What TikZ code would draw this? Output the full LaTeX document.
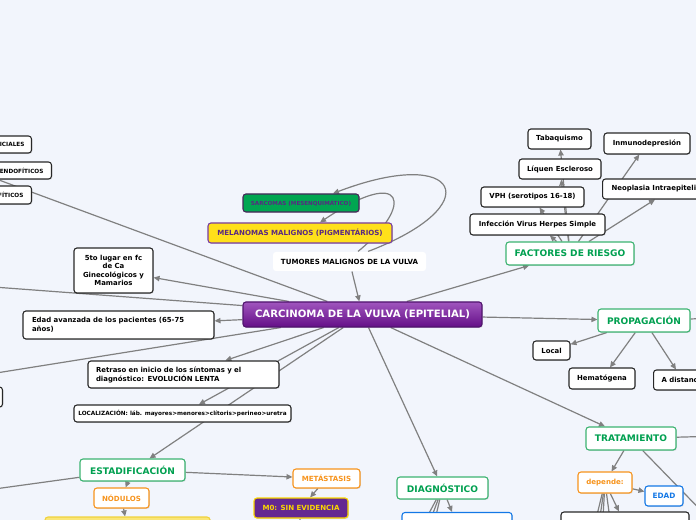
\documentclass[tikz,border=0pt]{standalone}
\usepackage{fontspec}
\setmainfont{DejaVu Sans}
\usetikzlibrary{arrows.meta,shadows,calc}
\pgfdeclarelayer{bg}
\pgfdeclarelayer{edges}
\pgfsetlayers{bg,edges,main}
\definecolor{bgcol}{RGB}{242,245,252}
\definecolor{edgegray}{RGB}{128,128,128}
\definecolor{boxline}{RGB}{40,40,40}
\definecolor{hdrgreen}{RGB}{60,179,113}
\definecolor{txtgreen}{RGB}{0,160,80}
\definecolor{orange1}{RGB}{247,148,29}
\definecolor{blue1}{RGB}{20,120,230}
\definecolor{ctop}{RGB}{160,85,190}
\definecolor{cbot}{RGB}{100,15,135}
\definecolor{cdark}{RGB}{80,20,110}
\definecolor{yelfill}{RGB}{255,224,26}
\definecolor{purpborder}{RGB}{120,60,160}
\definecolor{purptxt}{RGB}{90,40,130}
\definecolor{sargreen}{RGB}{0,166,81}
\definecolor{sarborder}{RGB}{70,40,90}
\definecolor{mzfill}{RGB}{100,40,145}
\definecolor{mzyellow}{RGB}{250,215,0}
\definecolor{ylight}{RGB}{250,230,120}
\definecolor{ylightborder}{RGB}{240,210,60}
\newcommand\fsz[2]{\fontsize{#1}{#2}\selectfont}
\begin{document}
\begin{tikzpicture}[x=0.75pt,y=-0.75pt,
  sz/.style 2 args={minimum width=#1*0.75pt, minimum height=#2*0.75pt},
  base/.style={rectangle, rounded corners=2.2pt, draw=boxline, line width=0.8pt, fill=white, text=black, font=\fsz{5.2pt}{6.6pt}\bfseries, inner sep=0pt, align=center},
  bx/.style={base, drop shadow={shadow xshift=0.7pt, shadow yshift=-0.7pt, opacity=0.22}},
  hdr/.style={bx, draw=hdrgreen, text=txtgreen, font=\fsz{6.8pt}{8pt}\bfseries},
  orb/.style={bx, draw=orange1, text=orange1, font=\fsz{5.3pt}{6.5pt}\bfseries},
  blb/.style={bx, draw=blue1, text=blue1, font=\fsz{5.5pt}{6.5pt}\bfseries},
  tiny/.style={font=\fsz{4.3pt}{5.2pt}\bfseries},
  ed/.style={draw=edgegray, line width=0.9pt, -{Triangle[length=4.5pt,width=4pt]}},
  ln/.style={draw=edgegray, line width=0.9pt},
]
\useasboundingbox (0,0) rectangle (696,520);
\begin{pgfonlayer}{bg}
\fill[bgcol] (0,0) rectangle (696,520);
\end{pgfonlayer}

\begin{scope}
\clip (0,0) rectangle (696,520);
% central
\node[rectangle, rounded corners=2.2pt, draw=cdark, line width=0.8pt, top color=ctop, bottom color=cbot, text=white, font=\fsz{7.6pt}{8.5pt}\bfseries, sz={239}{25}, inner sep=0pt, drop shadow={shadow xshift=0.7pt, shadow yshift=-0.7pt, opacity=0.25}] (central) at (362.5,314.5) {CARCINOMA DE LA VULVA (EPITELIAL)};
% top group
\node[base, draw=none, sz={153}{19}, font=\fsz{5.3pt}{6.5pt}\bfseries] (tumores) at (349.5,261.5) {TUMORES MALIGNOS DE LA VULVA};
\node[bx, fill=yelfill, draw=purpborder, text=purptxt, font=\fsz{5.3pt}{6.5pt}\bfseries, sz={184}{20}] (melanomas) at (300,233) {MELANOMAS MALIGNOS (PIGMENTÁRIOS)};
\node[bx, fill=sargreen, draw=sarborder, text=purptxt, font=\fsz{4.2pt}{5pt}\bfseries, sz={116}{18}] (sarcomas) at (301,203) {SARCOMAS (MESENQUIMÁTICO)};
% left group
\node[bx, sz={79}{45}, font=\fsz{5.2pt}{6.4pt}\bfseries] (quinto) at (113.5,270.5) {5to lugar en fc\\de Ca\\Ginecológicos y\\Mamarios};
\node[bx, sz={191}{28}, text width=129.75pt, align=left, font=\fsz{5.2pt}{6.75pt}\bfseries] (edadav) at (118.5,325) {Edad avanzada de los pacientes (65-75\\años)};
\node[bx, sz={191}{27}, text width=131.25pt, align=left, font=\fsz{5.2pt}{6.75pt}\bfseries] (retraso) at (183.5,374.5) {Retraso en inicio de los síntomas y el\\diagnóstico: EVOLUCIÓN LENTA};
\node[bx, tiny, sz={217}{17}] (localiz) at (182.5,413.5) {LOCALIZACIÓN: láb. mayores>menores>clítoris>perineo>uretra};
\node[bx, tiny, anchor=east, minimum height=17*0.75pt, inner xsep=5.25pt] (superf) at (32,144.5) {SUPERFICIALES};
\node[bx, tiny, anchor=east, minimum height=17*0.75pt, inner xsep=6pt, text width=60pt, align=right] (endof) at (52,170.5) {ENDOFÍTICOS};
\node[bx, tiny, anchor=east, minimum height=18*0.75pt, inner xsep=6pt] (exof) at (32,195) {EXOFÍTICOS};
\node[bx, anchor=east, sz={60}{20}] (leftbox) at (3,397) {};
% estadificacion
\node[hdr, sz={105}{22}] (estadif) at (132.5,470) {ESTADIFICACIÓN};
\node[orb, sz={55}{20}] (nodulos) at (121.5,498) {NÓDULOS};
\node[bx, fill=ylight, draw=ylightborder, sz={165}{24}] (ybox) at (127.5,529) {};
\node[orb, sz={67}{19}] (metast) at (326.5,478.5) {METÁSTASIS};
\node[bx, fill=mzfill, draw=mzyellow, text=mzyellow, font=\fsz{5.3pt}{6.5pt}\bfseries, sz={94}{20}] (mzero) at (301,508) {M0: SIN EVIDENCIA};
% diagnostico
\node[hdr, sz={91}{22}] (diag) at (442.5,488) {DIAGNÓSTICO};
\node[blb, sz={110}{24}] (diagchild) at (457,524.5) {};
% tratamiento
\node[hdr, sz={90}{23}] (trat) at (631,438.5) {TRATAMIENTO};
\node[orb, sz={54}{21}] (depende) at (605,482.5) {depende:};
\node[blb, sz={38}{20}] (edadn) at (664,496) {EDAD};
\node[bx, sz={128}{24}] (tratchild) at (625,524) {};
% propagacion
\node[hdr, sz={92}{23}] (propag) at (644,320.5) {PROPAGACIÓN};
\node[bx, sz={37}{19}] (local) at (551.5,350.5) {Local};
\node[bx, sz={66}{21}] (hemat) at (602,378.5) {Hematógena};
\node[bx, anchor=west, minimum height=20*0.75pt, inner xsep=6pt] (distan) at (653,380) {A distancia};
% factores
\node[hdr, sz={128}{23}] (factores) at (570,253.5) {FACTORES DE RIESGO};
\node[bx, sz={135}{21}] (infec) at (537.5,224.5) {Infección Virus Herpes Simple};
\node[bx, sz={103}{20}] (vph) at (532.5,197) {VPH (serotipos 16-18)};
\node[bx, sz={82}{20}] (liquen) at (560,169) {Líquen Escleroso};
\node[bx, sz={63}{20}] (tabaco) at (559.5,139) {Tabaquismo};
\node[bx, sz={86}{21}] (inmuno) at (647,143.5) {Inmunodepresión};
\node[bx, anchor=west, minimum height=20*0.75pt, inner xsep=6.75pt] (neopl) at (602,189) {Neoplasia Intraepitelial};
\end{scope}

% off-canvas ends
\coordinate (offA) at (-20,173);
\coordinate (offB) at (-20,286);
\coordinate (offC) at (-20,375.6);
\coordinate (offE) at (-20,491);
\coordinate (offP) at (720,318);
\coordinate (offT1) at (720,436);
\coordinate (offT2) at (720,530);
\coordinate (offD1) at (412,545);
\coordinate (offD2) at (421,545);
\coordinate (offD3) at (429,545);
\coordinate (offS1) at (585.8,560);
\coordinate (offS2) at (593.7,560);
\coordinate (offS3) at (600.5,560);
\coordinate (offS4) at (615.5,560);
\coordinate (offM) at (298,545);

\begin{pgfonlayer}{edges}
\begin{scope}
\clip (0,0) rectangle (696,520);
\draw[ed] (tumores) -- (central);
\draw[ed] ($(tumores.north)+(18.5,0)$) .. controls (490,205) and (460,145) .. ($(sarcomas.north)+(32,0)$);
\draw[ed] ($(tumores.north)+(8.5,0)$) .. controls (415,205) and (405,165) .. ($(melanomas.north)+(20,0)$);
\draw[ed] (central) -- (quinto);
\draw[ed] (central) -- (edadav);
\draw[ed] (central) -- (retraso);
\draw[ed] (central) -- (localiz);
\draw[ed] (central) -- (estadif);
\draw[ed] (central) -- (factores);
\draw[ed] (central) -- (propag);
\draw[ed] (central) -- (trat);
\draw[ed] (central) -- (diag);
\draw[ln] (central) -- (offA);
\draw[ln] (central) -- (offB);
\draw[ln] (central) -- (offC);
% factores
\draw[ed] (factores) -- (infec);
\draw[ed] (factores) -- (vph);
\draw[ed] (factores) -- (liquen);
\draw[ed] (factores) -- (tabaco);
\draw[ed] (factores) -- (inmuno);
\draw[ed] (factores) -- ($(neopl.south west)+(53,0)$);
% propagacion
\draw[ed] (propag) -- (local);
\draw[ed] (propag) -- (hemat);
\draw[ed] (propag) -- ($(distan.north west)+(23,0)$);
\draw[ln] (propag) -- (offP);
% tratamiento
\draw[ed] (trat) -- (depende);
\draw[ln] (trat) -- (offT1);
\draw[ln] (trat) -- (offT2);
\draw[ed] (depende) -- (edadn);
\draw[ed] (depende) -- (tratchild);
\draw[ln] (depende) -- (offS1);
\draw[ln] (depende) -- (offS2);
\draw[ln] (depende) -- (offS3);
\draw[ln] (depende) -- (offS4);
% diagnostico
\draw[ed] (diag) -- (diagchild);
\draw[ln] (diag) -- (offD1);
\draw[ln] (diag) -- (offD2);
\draw[ln] (diag) -- (offD3);
% estadificacion
\draw[ln] (estadif) -- (offE);
\draw[ed] (estadif) -- (nodulos);
\draw[ed] (estadif) -- (metast);
\draw[ed] (nodulos) -- (ybox);
\draw[ed] (metast) -- (mzero);
\draw[ln] (mzero) -- (offM);
\end{scope}
\end{pgfonlayer}
\end{tikzpicture}
\end{document}
